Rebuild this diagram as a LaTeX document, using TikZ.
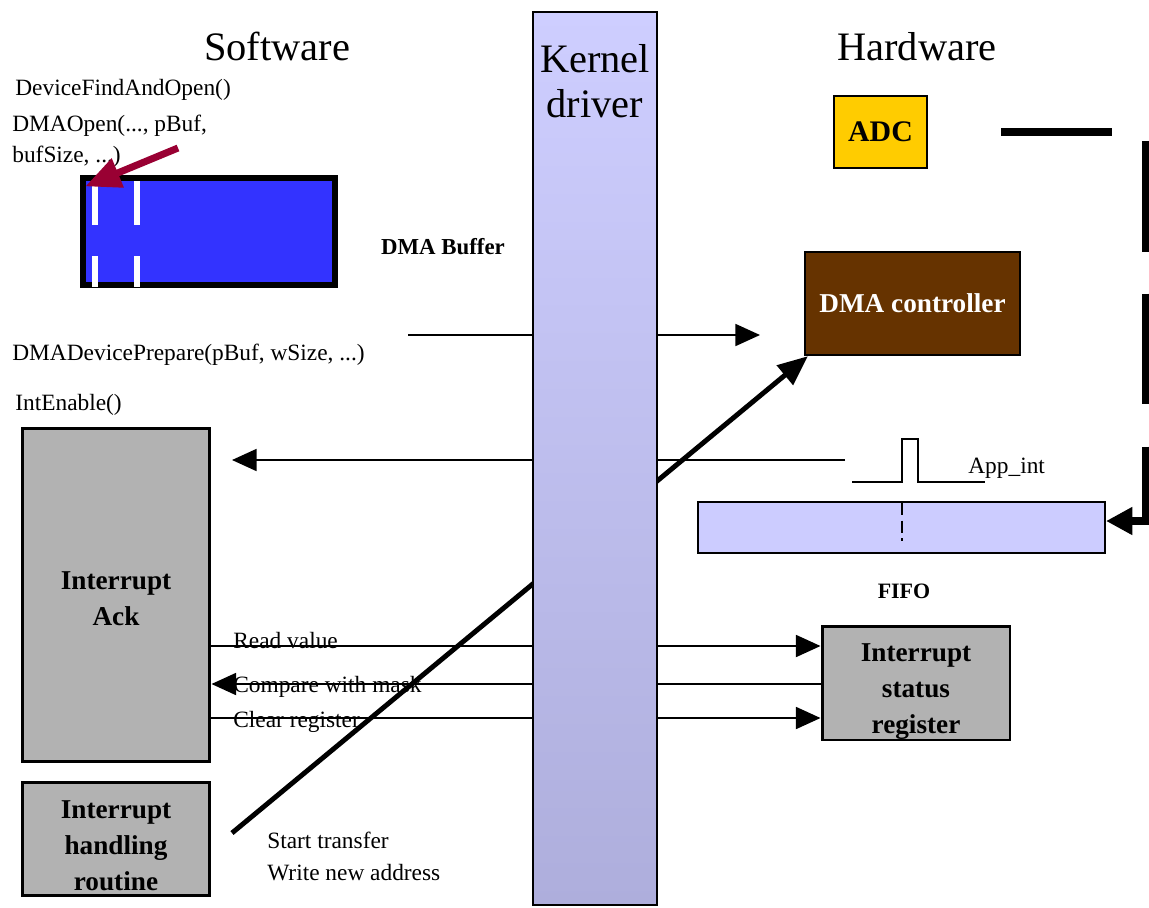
\documentclass[tikz,border=0pt]{standalone}
\usepackage{fontspec}
\setmainfont{Liberation Serif}
\usepackage{xcolor}
\usetikzlibrary{arrows.meta, positioning, backgrounds}

\definecolor{kerntop}{RGB}{206,206,255}
\definecolor{kernbot}{RGB}{174,174,220}
\definecolor{bufblue}{RGB}{51,51,255}
\definecolor{adcyellow}{RGB}{255,204,0}
\definecolor{dmabrown}{RGB}{102,51,0}
\definecolor{fifoblue}{RGB}{204,204,255}
\definecolor{regray}{RGB}{178,178,178}
\definecolor{maroonarrow}{RGB}{153,0,51}

\tikzset{
  head/.style={font=\fontsize{23}{25.5}\selectfont, inner sep=0pt, align=center},
  lbl/.style={anchor=base west, inner sep=0pt, font=\fontsize{13.3}{15}\selectfont},
  btxt/.style={anchor=base, inner sep=0pt, font=\fontsize{13}{15}\selectfont\bfseries},
  box/.style={draw, line width=1.7pt, fill=regray, inner sep=0pt, minimum width=3.76cm},
  boxtxt/.style={align=center, inner sep=0pt, font=\fontsize{15.5}{20.4}\selectfont\bfseries},
  sig/.style={line width=1.1pt, -{Triangle[length=14pt,width=12.5pt]}},
}

\begin{document}
\begin{tikzpicture}[x=0.02cm, y=-0.02cm]
  \useasboundingbox (0,0) rectangle (1149,907);

  % titles
  \node[head, anchor=base] (sw) at (277,60) {Software};
  \node[head, anchor=base] (hw) at (917,60) {Hardware};

  % software side
  \node[lbl] (findopen) at (15,95) {DeviceFindAndOpen()};
  \node[lbl] (dmaopen) at (12,131) {DMAOpen(..., pBuf,};
  \node[lbl] (dmaopen2) at (12,162) {bufSize, ...)};
  \node[draw, line width=3pt, fill=bufblue, minimum width=5.04cm, minimum height=2.14cm] (buf) at (209,231.5) {};
  \foreach \x in {95,137}
    \draw[white, line width=3.6pt] (\x,181) -- (\x,225) (\x,256) -- (\x,286.5);
  \node[btxt] (buflbl) at (443,254) {DMA Buffer};
  \node[lbl] (prepare) at (12,360) {DMADevicePrepare(pBuf, wSize, ...)};
  \node[lbl] (intenable) at (15,410) {IntEnable()};
  \node[box, minimum height=6.68cm] (ack) at (116,595) {};
  \node[boxtxt] (acktxt) at ([yshift=-2pt]ack.center) {Interrupt\\Ack};
  \node[box, minimum height=2.26cm] (ihr) at (116,838.5) {};
  \node[boxtxt] (ihrtxt) at ([yshift=-4pt]ihr.center) {Interrupt\\handling\\routine};
  \node[lbl] (rdval) at (233,648) {Read value};
  \node[lbl] (cmpmask) at (233,692) {Compare with mask};
  \node[lbl] (clrreg) at (233,727) {Clear register};
  \node[lbl] (start) at (267,848) {Start transfer};
  \node[lbl] (wraddr) at (267,880) {Write new address};

  % hardware side
  \node[draw, line width=1.4pt, fill=adcyellow, minimum width=1.86cm, minimum height=1.44cm,
    font=\fontsize{17}{20}\selectfont\bfseries] (adc) at (880.5,132) {ADC};
  \node[draw, line width=1.4pt, fill=dmabrown, text=white, minimum width=4.3cm, minimum height=2.06cm,
    font=\fontsize{15.5}{18}\selectfont\bfseries] (dmac) at (912.5,303.5) {DMA controller};
  \node[draw, line width=1.2pt, fill=fifoblue, minimum width=8.14cm, minimum height=1.02cm] (fifo) at (901.5,527.5) {};
  \draw[line width=1.1pt, dash pattern=on 7pt off 3pt] (902,503) -- (902,541);
  \node[btxt, font=\fontsize{12.5}{15}\selectfont\bfseries] (fifolbl) at (904,598) {FIFO};
  \node[box, minimum height=2.28cm] (isr) at (916,683) {};
  \node[boxtxt] (isrtxt) at ([yshift=-5pt]isr.center) {Interrupt\\status\\register};
  \draw[line width=1.1pt] (852,482) -- (902,482) -- (902,439) -- (918,439) -- (918,482) -- (985,482);
  \node[lbl] (appint) at (968,473) {App\_int};

  \coordinate (adcout) at (1001,132);
  \coordinate (turn) at (1145,132);
  \draw[line width=4pt, dash pattern=on 63pt off 24pt, line join=miter,
    -{Triangle[length=15pt,width=15pt]}] (adcout) -- (turn) |- (fifo.east |- 0,521);

  % connectors through the kernel
  \begin{scope}[on background layer]
    \draw[sig] (408,335) -- (760,335);
    \draw[sig] (845,460) -- (232,460);
    \draw[sig] (ack.east |- 0,646) -- (isr.west |- 0,646);
    \draw[sig] (isr.west |- 0,684) -- (ack.east |- 0,684);
    \draw[sig] (ack.east |- 0,718) -- (isr.west |- 0,718);
    \draw[line width=2.8pt, -{Triangle[length=17pt,width=14pt]}] (232,833) -- ([shift={(4,0)}]dmac.south west);
  \end{scope}

  % kernel column
  \node[draw, line width=1.4pt, top color=kerntop, bottom color=kernbot,
    minimum width=2.48cm, minimum height=17.86cm] (kernel) at (595,458.5) {};
  \node[head, anchor=north] (kernlbl) at (595,44) {Kernel\\driver};

  \draw[maroonarrow, line width=4pt, -{Triangle[length=20pt,width=17pt]}] (178,148) -- ([shift={(5,11)}]buf.north west);
\end{tikzpicture}
\end{document}
